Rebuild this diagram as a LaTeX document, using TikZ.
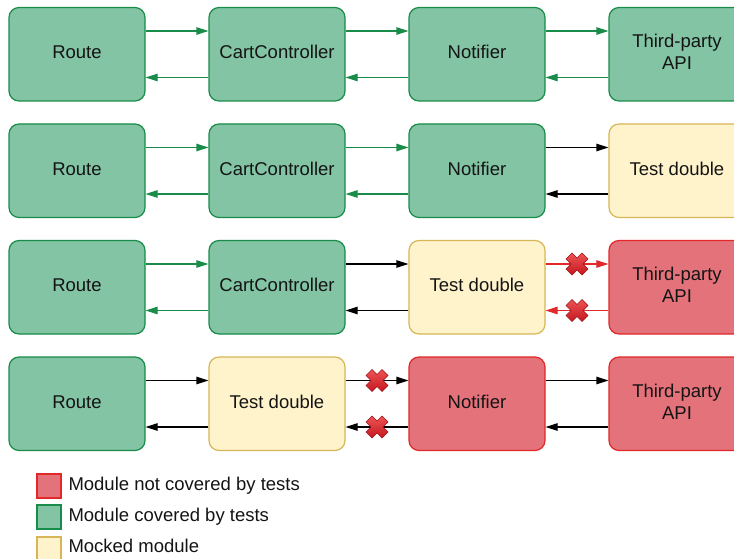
\documentclass[tikz,border=0pt]{standalone}
\usepackage{fontspec}
\setmainfont{Liberation Sans}
\usetikzlibrary{arrows.meta,calc}
\definecolor{gfill}{RGB}{130,196,163}
\definecolor{gdraw}{RGB}{24,140,72}
\definecolor{rfill}{RGB}{228,114,122}
\definecolor{rdraw}{RGB}{226,40,40}
\definecolor{yfill}{RGB}{255,243,204}
\definecolor{ydraw}{RGB}{214,182,86}
\definecolor{xtop}{RGB}{238,84,84}
\definecolor{xbot}{RGB}{196,24,32}
\definecolor{xline}{RGB}{160,16,24}
\definecolor{txt}{RGB}{20,20,20}
\begin{document}
\begin{tikzpicture}[x=1pt,y=-1pt,
  font=\fontsize{18.5}{22}\selectfont,
  mod/.style={rounded corners=10pt, minimum width=136pt, minimum height=93.5pt,
    line width=1.2pt, inner sep=0pt},
  lbl/.style={text=txt, align=center, inner sep=0pt, yshift=2pt},
  covered/.style={mod, fill=gfill, draw=gdraw},
  uncovered/.style={mod, fill=rfill, draw=rdraw},
  mocked/.style={mod, fill=yfill, draw=ydraw},
  conn/.style={line width=1.2pt, -{Triangle[length=12pt,width=7.5pt]}},
  garrow/.style={conn, draw=gdraw, fill=gdraw},
  karrow/.style={conn, draw=black, fill=black},
  rarrow/.style={conn, draw=rdraw, fill=rdraw},
  legsq/.style={minimum width=24pt, minimum height=24pt, inner sep=0pt, line width=1.2pt},
  legtxt/.style={anchor=west, inner sep=0pt, text=txt},
  xmark/.pic={\draw[line width=0.6pt, draw=xline, top color=xtop, bottom color=xbot]
    (0,-6) -- (5,-11) -- (11,-5) -- (6,0) -- (11,5) -- (5,11) -- (0,6)
    -- (-5,11) -- (-11,5) -- (-6,0) -- (-11,-5) -- (-5,-11) -- cycle;}
]
\useasboundingbox (0,0) rectangle (734,559);
\def\dy{23.25pt}

% Row 1
\node[covered, label={[lbl]center:Route}] (a1) at (77,54.25) {};
\node[covered, label={[lbl]center:CartController}] (b1) at (277,54.25) {};
\node[covered, label={[lbl]center:Notifier}] (c1) at (477,54.25) {};
\node[covered, label={[lbl]center:{Third-party\\API}}] (d1) at (677,54.25) {};
% Row 2
\node[covered, label={[lbl]center:Route}] (a2) at (77,170.75) {};
\node[covered, label={[lbl]center:CartController}] (b2) at (277,170.75) {};
\node[covered, label={[lbl]center:Notifier}] (c2) at (477,170.75) {};
\node[mocked, label={[lbl]center:Test double}] (d2) at (677,170.75) {};
% Row 3
\node[covered, label={[lbl]center:Route}] (a3) at (77,287.25) {};
\node[covered, label={[lbl]center:CartController}] (b3) at (277,287.25) {};
\node[mocked, label={[lbl]center:Test double}] (c3) at (477,287.25) {};
\node[uncovered, label={[lbl]center:{Third-party\\API}}] (d3) at (677,287.25) {};
% Row 4
\node[covered, label={[lbl]center:Route}] (a4) at (77,403.75) {};
\node[mocked, label={[lbl]center:Test double}] (b4) at (277,403.75) {};
\node[uncovered, label={[lbl]center:Notifier}] (c4) at (477,403.75) {};
\node[uncovered, label={[lbl]center:{Third-party\\API}}] (d4) at (677,403.75) {};

% connectors
\foreach \l/\r/\s in {a1/b1/garrow, b1/c1/garrow, c1/d1/garrow,
                     a2/b2/garrow, b2/c2/garrow, c2/d2/karrow,
                     a3/b3/garrow, b3/c3/karrow, c3/d3/rarrow,
                     a4/b4/karrow, b4/c4/karrow, c4/d4/karrow}{
  \draw[\s] ([yshift=\dy]\l.east) -- ([yshift=\dy]\r.west);
  \draw[\s] ([yshift=-\dy]\r.west) -- ([yshift=-\dy]\l.east);
}

% crosses
\pic at ($([yshift=\dy]c3.east)!0.5!([yshift=\dy]d3.west)$) {xmark};
\pic at ($([yshift=-\dy]c3.east)!0.5!([yshift=-\dy]d3.west)$) {xmark};
\pic at ($([yshift=\dy]b4.east)!0.5!([yshift=\dy]c4.west)$) {xmark};
\pic at ($([yshift=-\dy]b4.east)!0.5!([yshift=-\dy]c4.west)$) {xmark};

% legend
\node[legsq, fill=rfill, draw=rdraw] (l1) at (49,486) {};
\node[legtxt] (t1) at (68.3,486) {Module not covered by tests};
\node[legsq, fill=gfill, draw=gdraw] (l2) at (49,517) {};
\node[legtxt] (t2) at (68.3,517) {Module covered by tests};
\node[legsq, fill=yfill, draw=ydraw] (l3) at (49,549) {};
\node[legtxt] (t3) at (68.3,546) {Mocked module};
\end{tikzpicture}
\end{document}
